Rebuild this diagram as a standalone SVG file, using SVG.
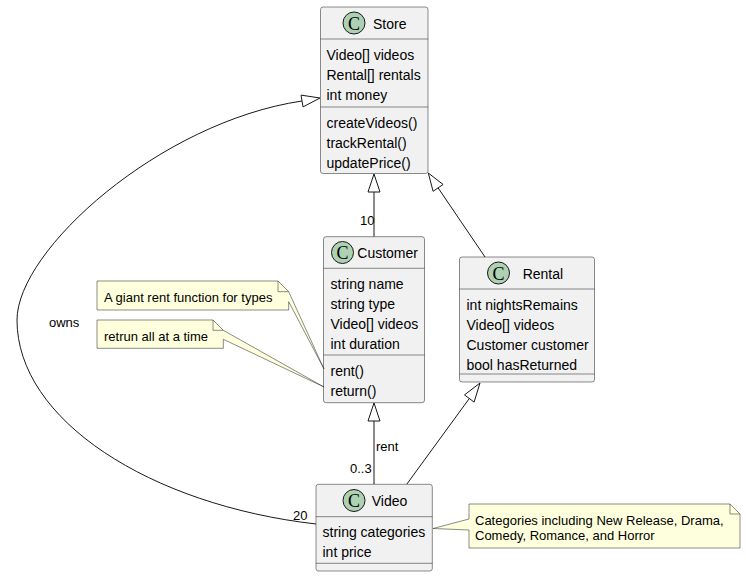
<svg xmlns="http://www.w3.org/2000/svg" width="746" height="577" viewBox="0 0 746 577">
<style>
.box{fill:#F1F1F1;stroke:#181818;stroke-width:0.5}
.sep{stroke:#181818;stroke-width:0.5}
.ico{fill:#ADD1B2;stroke:#181818;stroke-width:1}
.ic{font-family:"Liberation Serif",serif;font-size:18px;fill:#000;text-anchor:middle}
.t{font-family:"Liberation Sans",Arial,sans-serif;font-size:14px;fill:#000}
.lb{font-family:"Liberation Sans",Arial,sans-serif;font-size:13px;fill:#000}
.note{fill:#FEFFDD;stroke:#181818;stroke-width:0.5}
.fold{fill:none;stroke:#181818;stroke-width:0.5}
.ln{fill:none;stroke:#181818;stroke-width:1}
.hd{fill:none;stroke:#181818;stroke-width:1}
</style>
<rect width="746" height="577" fill="#FFFFFF"/>
<g id="connectors">
<path class="ln" d="M302,101 C160,122 17,250 17,320 C17,420 150,505 316,524"/>
<polygon class="hd" points="320,98 303,106.9 301,95.1"/>
<line class="ln" x1="374" y1="236.7" x2="374" y2="192"/>
<polygon class="hd" points="374,174 368,192 380,192"/>
<line class="ln" x1="485" y1="257" x2="438.1" y2="187.9"/>
<polygon class="hd" points="428.3,173 443.1,184.5 433.1,191.3"/>
<line class="ln" x1="374" y1="484.3" x2="374" y2="421"/>
<polygon class="hd" points="374,403 368,421 380,421"/>
<line class="ln" x1="406.7" y1="484.3" x2="469.3" y2="398.5"/>
<polygon class="hd" points="480,383 464.5,394.9 474.1,402.1"/>
<text class="lb" x="360" y="225">10</text>
<text class="lb" x="376" y="451">rent</text>
<text class="lb" x="350" y="473">0..3</text>
<text class="lb" x="293" y="520">20</text>
<text class="lb" x="49" y="327">owns</text>
</g>
<g id="Store">
<rect class="box" x="320.5" y="7" width="107.5" height="166.5" rx="2.5"/>
<line class="sep" x1="320.5" y1="39" x2="428" y2="39"/>
<line class="sep" x1="320.5" y1="107" x2="428" y2="107"/>
<circle class="ico" cx="354" cy="23" r="11"/>
<text class="ic" x="354" y="29.5">C</text>
<text class="t" x="373" y="28.5">Store</text>
<text class="t" x="326.5" y="59.5">Video[] videos</text>
<text class="t" x="326.5" y="79.5">Rental[] rentals</text>
<text class="t" x="326.5" y="99.5">int money</text>
<text class="t" x="326.5" y="127.5">createVideos()</text>
<text class="t" x="326.5" y="147.5">trackRental()</text>
<text class="t" x="326.5" y="167.5">updatePrice()</text>
</g>
<g id="Customer">
<rect class="box" x="323.5" y="236.7" width="101" height="166" rx="2.5"/>
<line class="sep" x1="323.5" y1="268.3" x2="424.5" y2="268.3"/>
<line class="sep" x1="323.5" y1="355" x2="424.5" y2="355"/>
<circle class="ico" cx="342.5" cy="252.5" r="11"/>
<text class="ic" x="342.5" y="259">C</text>
<text class="t" x="357.3" y="258">Customer</text>
<text class="t" x="330.5" y="288.5">string name</text>
<text class="t" x="330.5" y="308.5">string type</text>
<text class="t" x="330.5" y="328.5">Video[] videos</text>
<text class="t" x="330.5" y="348.5">int duration</text>
<text class="t" x="330.5" y="375.5">rent()</text>
<text class="t" x="330.5" y="395.5">return()</text>
</g>
<g id="Rental">
<rect class="box" x="459.5" y="257" width="135" height="125" rx="2.5"/>
<line class="sep" x1="459.5" y1="289" x2="594.5" y2="289"/>
<line class="sep" x1="459.5" y1="374" x2="594.5" y2="374"/>
<circle class="ico" cx="498.5" cy="273" r="11"/>
<text class="ic" x="498.5" y="279.5">C</text>
<text class="t" x="522.7" y="278.5">Rental</text>
<text class="t" x="466.5" y="309.5">int nightsRemains</text>
<text class="t" x="466.5" y="329.5">Video[] videos</text>
<text class="t" x="466.5" y="349.5">Customer customer</text>
<text class="t" x="466.5" y="369.5">bool hasReturned</text>
</g>
<g id="Video">
<rect class="box" x="316" y="484.3" width="116.3" height="86.7" rx="2.5"/>
<line class="sep" x1="316" y1="516.7" x2="432.3" y2="516.7"/>
<line class="sep" x1="316" y1="563.3" x2="432.3" y2="563.3"/>
<circle class="ico" cx="354" cy="500.5" r="11"/>
<text class="ic" x="354" y="507">C</text>
<text class="t" x="371.7" y="506">Video</text>
<text class="t" x="322.5" y="537">string categories</text>
<text class="t" x="322.5" y="557">int price</text>
</g>
<g id="note1">
<path class="note" d="M97,281 L278,281 L288.7,291.7 L324,369 L288.7,301.7 L288.7,310 L97,310 Z"/>
<path class="fold" d="M278,281 L278,291.7 L288.7,291.7"/>
<text class="lb" x="104" y="301.5">A giant rent function for types</text>
</g>
<g id="note2">
<path class="note" d="M97,320 L213,320 L223.3,330.3 L324,387 L223.3,339.3 L223.3,348.3 L97,348.3 Z"/>
<path class="fold" d="M213,320 L213,330.3 L223.3,330.3"/>
<text class="lb" x="104" y="340.5">retrun all at a time</text>
</g>
<g id="note3">
<path class="note" d="M469,504 L730,504 L740,514 L740,548 L469,548 L469,530 L433,528.5 L469,519 Z"/>
<path class="fold" d="M730,504 L730,514 L740,514"/>
<text class="lb" x="475" y="524.5">Categories including New Release, Drama,</text>
<text class="lb" x="475" y="540">Comedy, Romance, and Horror</text>
</g>
</svg>
